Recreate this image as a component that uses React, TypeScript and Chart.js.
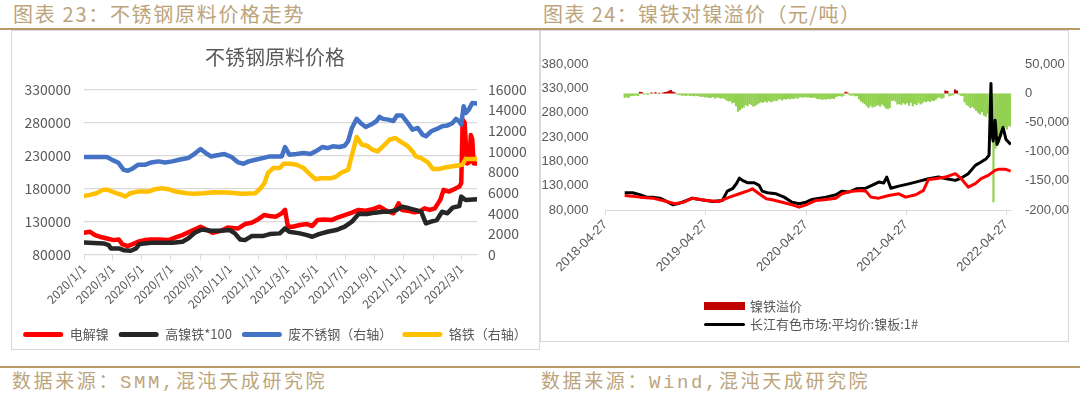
import React, { useEffect, useRef } from "react";
import { Chart, registerables } from "chart.js";

Chart.register(...registerables);

const FONT = '"Noto Sans CJK SC", "Noto Sans", sans-serif';
const NUM_FONT = '"Liberation Sans", "Noto Sans CJK SC", sans-serif';
const AXIS_GREY = "#595959";
const GRID = "#d9d9d9";
const GOLD_TEXT = "#bca47c";
const GOLD_LINE = "#b99a66";

// ---------------- Figure 23: stainless raw material prices ----------------
const chart23Title = "不锈钢原料价格";
const chart23TickLabels = [
  "2020/1/1", "2020/3/1", "2020/5/1", "2020/7/1", "2020/9/1", "2020/11/1",
  "2021/1/1", "2021/3/1", "2021/5/1", "2021/7/1", "2021/9/1", "2021/11/1",
  "2022/1/1", "2022/3/1",
];

// 电解镍 (left axis)
const nickelDates = [
  "2020-01-01", "2020-01-13", "2020-01-24", "2020-02-03", "2020-02-18", "2020-03-03", "2020-03-14", "2020-03-21",
  "2020-04-01", "2020-04-12", "2020-04-23", "2020-05-07", "2020-05-21", "2020-06-05", "2020-06-26", "2020-07-11",
  "2020-07-25", "2020-08-09", "2020-08-24", "2020-09-01", "2020-09-15", "2020-09-26", "2020-10-14", "2020-10-28",
  "2020-11-19", "2020-12-03", "2020-12-17", "2020-12-28", "2021-01-12", "2021-01-23", "2021-02-06", "2021-02-18",
  "2021-02-25", "2021-03-03", "2021-03-13", "2021-03-28", "2021-04-12", "2021-04-23", "2021-05-04", "2021-05-18",
  "2021-06-02", "2021-06-16", "2021-06-30", "2021-07-15", "2021-07-29", "2021-08-13", "2021-08-27", "2021-09-11",
  "2021-09-25", "2021-10-10", "2021-10-21", "2021-10-28", "2021-11-12", "2021-11-23", "2021-12-03", "2021-12-14",
  "2021-12-25", "2022-01-05", "2022-01-16", "2022-01-23", "2022-02-03", "2022-02-14", "2022-02-25", "2022-03-01",
  "2022-03-04", "2022-03-08", "2022-03-13", "2022-03-18", "2022-03-21", "2022-03-24", "2022-03-27", "2022-04-03",
];
const nickelValues = [
  113000, 114500, 109400, 106900, 104300, 101800, 102800, 95700,
  92700, 95700, 99300, 101800, 102800, 102800, 101800, 105900,
  109400, 114500, 119500, 122100, 117000, 113000, 116000, 121000,
  119500, 126100, 128200, 132200, 139800, 138300, 137300, 142400,
  147500, 122100, 122100, 124600, 126100, 123100, 132200, 133200,
  132200, 136300, 139800, 143400, 147500, 146400, 148500, 152500,
  146400, 142400, 157600, 147500, 145900, 143900, 145000, 150000,
  147500, 150000, 162700, 177900, 175300, 178900, 183000, 188000,
  284000, 280000, 218000, 220000, 261000, 255000, 218000, 218000,
];

// 高镍铁*100 (left axis)
const npiDates = [
  "2020-01-01", "2020-02-11", "2020-02-22", "2020-02-26", "2020-03-14", "2020-03-24", "2020-04-08", "2020-04-19",
  "2020-04-26", "2020-05-21", "2020-07-04", "2020-07-25", "2020-08-06", "2020-08-20", "2020-09-04", "2020-09-23",
  "2020-10-14", "2020-11-01", "2020-11-12", "2020-11-23", "2020-12-03", "2020-12-17", "2021-01-09", "2021-01-24",
  "2021-02-14", "2021-02-25", "2021-03-06", "2021-03-28", "2021-04-12", "2021-04-23", "2021-05-07", "2021-05-25",
  "2021-06-12", "2021-06-30", "2021-07-15", "2021-07-29", "2021-08-16", "2021-09-01", "2021-09-18", "2021-10-02",
  "2021-10-17", "2021-10-28", "2021-11-12", "2021-11-30", "2021-12-07", "2021-12-17", "2021-12-28", "2022-01-09",
  "2022-01-20", "2022-01-31", "2022-02-11", "2022-02-25", "2022-03-01", "2022-03-10", "2022-04-03",
];
const npiValues = [
  98300, 96700, 94200, 89100, 89100, 86600, 85600, 89100,
  95700, 97700, 97700, 99300, 104300, 113000, 118000, 116000,
  116000, 117000, 112000, 102800, 101800, 107900, 107900, 110900,
  112000, 119500, 114500, 112000, 109400, 106900, 110900, 114500,
  117000, 122100, 129700, 141400, 141400, 143400, 144900, 144900,
  147500, 152500, 150000, 146400, 144900, 127200, 129700, 132200,
  144900, 142400, 151000, 153500, 167700, 162700, 163700,
];

// 废不锈钢 (right axis)
const scrapDates = [
  "2020-01-01", "2020-02-18", "2020-03-01", "2020-03-13", "2020-03-24", "2020-04-02", "2020-04-12", "2020-04-23",
  "2020-05-07", "2020-05-21", "2020-06-05", "2020-06-19", "2020-07-04", "2020-07-18", "2020-08-06", "2020-08-17",
  "2020-09-01", "2020-09-12", "2020-09-23", "2020-10-03", "2020-10-21", "2020-11-05", "2020-11-19", "2020-11-30",
  "2020-12-11", "2020-12-25", "2021-01-09", "2021-01-24", "2021-02-18", "2021-02-25", "2021-03-06", "2021-03-21",
  "2021-04-05", "2021-04-19", "2021-04-30", "2021-05-14", "2021-05-25", "2021-06-05", "2021-06-19", "2021-06-30",
  "2021-07-07", "2021-07-15", "2021-07-25", "2021-08-02", "2021-08-13", "2021-08-24", "2021-09-04", "2021-09-11",
  "2021-09-18", "2021-09-29", "2021-10-10", "2021-10-17", "2021-10-28", "2021-11-08", "2021-11-19", "2021-11-30",
  "2021-12-10", "2021-12-17", "2021-12-28", "2022-01-09", "2022-01-20", "2022-01-31", "2022-02-11", "2022-02-18",
  "2022-02-25", "2022-03-01", "2022-03-06", "2022-03-11", "2022-03-17", "2022-03-24", "2022-04-03",
];
const scrapValues = [
  9450, 9450, 9150, 8900, 8210, 8120, 8350, 8700,
  8700, 8930, 9030, 8930, 9030, 9190, 9350, 9680,
  10230, 9840, 9510, 9600, 9740, 9450, 8930, 8800,
  9030, 9190, 9350, 9510, 9510, 10420, 9680, 9740,
  9840, 9740, 10000, 10420, 10320, 10490, 10420, 10550,
  10980, 12270, 13150, 12760, 12370, 12600, 12920, 13340,
  13150, 13080, 12950, 13470, 13470, 12820, 12110, 12270,
  11620, 11460, 11950, 12180, 12440, 12500, 12760, 13150,
  12900, 12600, 14380, 13730, 14060, 14700, 14640,
];

// 铬铁 (right axis)
const ferroDates = [
  "2020-01-01", "2020-01-13", "2020-01-27", "2020-02-10", "2020-02-20", "2020-03-05", "2020-03-20", "2020-03-27",
  "2020-04-07", "2020-04-23", "2020-05-15", "2020-05-29", "2020-06-12", "2020-06-26", "2020-07-11", "2020-08-02",
  "2020-08-17", "2020-09-08", "2020-09-29", "2020-10-28", "2020-11-26", "2020-12-25", "2021-01-05", "2021-01-13",
  "2021-01-20", "2021-01-31", "2021-02-14", "2021-02-22", "2021-03-08", "2021-03-21", "2021-04-05", "2021-04-19",
  "2021-04-30", "2021-05-11", "2021-06-02", "2021-06-12", "2021-06-23", "2021-07-07", "2021-07-18", "2021-07-25",
  "2021-08-05", "2021-08-16", "2021-08-27", "2021-09-07", "2021-09-18", "2021-10-02", "2021-10-14", "2021-10-24",
  "2021-11-08", "2021-11-19", "2021-11-26", "2021-12-07", "2021-12-21", "2022-01-01", "2022-01-12", "2022-01-26",
  "2022-02-18", "2022-03-03", "2022-03-10", "2022-04-03",
];
const ferroValues = [
  5680, 5780, 5940, 6270, 6270, 6010, 5780, 5620,
  5940, 6100, 6100, 6330, 6430, 6330, 6100, 5940,
  5880, 5940, 6040, 6010, 5880, 5940, 6430, 6920,
  7890, 8380, 8380, 8800, 8800, 8700, 8380, 7730,
  7300, 7400, 7400, 7560, 7950, 8210, 10160, 11400,
  10650, 10550, 10160, 10000, 10490, 11140, 11300, 10970,
  10550, 10000, 9510, 9350, 8930, 8280, 8280, 8440,
  8600, 8700, 9250, 9250,
];

// ---------------- Figure 24: NPI premium over nickel ----------------
const chart24TickLabels = ["2018-04-27", "2019-04-27", "2020-04-27", "2021-04-27", "2022-04-27"];
const chart24AxisEnd = "2022-05-14";

// 镍铁溢价 (right axis), weekly from premiumStart
const premiumStart = "2018-07-06";
const premiumStepDays = 7;
const premiumValues = [
  -7600, -6500, -8000, -5000, -4500, -4000, -3500, -4200, 3000, 2000,
  -2000, -1500, -2500, -1000, 1500, -1000, 2000, -800, 1200, -600,
  1800, 2500, 3000, 4500, 6000, 3500, 2000, -1500, -2500, -3000,
  -4000, -3500, -4500, -3000, -4200, -3800, -5000, -4000, -4500, -5200,
  -6000, -5500, -7000, -6500, -8000, -7500, -6000, -8500, -7000, -7500,
  -9000, -8000, -9500, -12000, -14000, -13000, -17000, -16000, -22000, -31600,
  -29000, -25800, -24000, -20000, -22000, -18000, -20000, -22800, -21000, -19000,
  -17000, -15000, -16000, -14000, -15500, -13000, -15000, -14000, -12500, -13500,
  -11000, -10000, -12000, -9500, -10500, -9000, -10000, -8500, -9500, -8000,
  -9000, -7000, -6500, -7500, -6000, -7000, -6500, -8000, -7000, -7500,
  -9000, -10000, -9500, -11000, -10000, -10500, -9000, -10000, -8500, -9500,
  -6000, -5000, -4500, -5500, -4000, 2800, 1500, -3000, -4000, -3500,
  -5000, -4500, -10000, -14000, -16000, -18000, -22000, -25000, -21000, -24000,
  -23000, -22000, -20000, -23000, -19000, -22000, -26000, -27000, -25000, -13000,
  -12000, -14000, -19000, -18000, -20000, -17000, -19000, -17000, -21000, -16000,
  -22000, -18000, -20000, -16000, -19000, -17000, -14000, -15000, -13000, -14500,
  -12000, -13000, -11000, -8000, -7000, -9000, -8000, 5000, 4000, -5000,
  -4000, -3000, 6900, 5000, -2000, -4000, -4500, -15000, -20000, -22000,
  -25000, -23000, -26000, -30000, -33000, -36000, -32000, -38000, -40000, -35000,
  -42000, -40000, -186600, -95000, -70000, -85000, -75000, -60000, -58000, -62000,
  -56000, -57000,
];

// 长江有色市场:平均价:镍板:1# (left axis)
const ni1Dates = [
  "2018-07-06", "2018-08-04", "2018-08-30", "2018-09-24", "2018-10-16", "2018-11-11", "2018-12-06", "2018-12-28",
  "2019-01-22", "2019-02-17", "2019-03-10", "2019-04-05", "2019-04-30", "2019-05-22", "2019-06-27", "2019-07-15",
  "2019-08-03", "2019-08-17", "2019-08-28", "2019-09-08", "2019-09-26", "2019-10-21", "2019-11-08", "2019-11-19",
  "2019-12-08", "2020-01-09", "2020-02-07", "2020-03-07", "2020-04-02", "2020-04-27", "2020-05-19", "2020-07-09",
  "2020-08-14", "2020-09-05", "2020-09-30", "2020-10-29", "2020-12-01", "2020-12-23", "2021-01-17", "2021-02-04",
  "2021-02-15", "2021-03-02", "2021-03-31", "2021-05-06", "2021-06-11", "2021-07-17", "2021-08-23", "2021-09-21",
  "2021-10-23", "2021-11-14", "2021-12-09", "2022-01-04", "2022-01-25", "2022-02-13", "2022-02-23", "2022-03-02",
  "2022-03-06", "2022-03-10", "2022-03-17", "2022-03-24", "2022-03-31", "2022-04-15", "2022-04-26", "2022-05-13",
];
const ni1Values = [
  115500, 115500, 111400, 106500, 106500, 104400, 97600, 90700,
  94000, 99600, 104400, 101700, 99600, 97600, 99600, 118800,
  123800, 134100, 145700, 141000, 136200, 136200, 130600, 118800,
  115500, 113400, 106500, 96100, 92800, 96100, 101700, 106500,
  111400, 118800, 117000, 123800, 124900, 130600, 137500, 135700,
  147800, 124900, 129100, 133800, 138900, 144400, 147800, 144400,
  141000, 145800, 154800, 171900, 178900, 185700, 192600, 340700,
  235000, 222000, 264900, 215000, 225000, 250000, 225000, 215000,
];

// 镍铁折算镍价 (left axis, red line)
const npiNickelDates = [
  "2018-07-06", "2018-08-30", "2018-10-16", "2018-12-06", "2019-01-04", "2019-02-05", "2019-03-10", "2019-04-30",
  "2019-06-16", "2019-07-23", "2019-08-28", "2019-10-03", "2019-10-14", "2019-11-08", "2019-12-04", "2019-12-25",
  "2020-01-31", "2020-03-07", "2020-04-02", "2020-04-27", "2020-06-02", "2020-07-09", "2020-08-14", "2020-09-05",
  "2020-10-11", "2020-11-13", "2020-12-01", "2020-12-19", "2021-01-17", "2021-02-22", "2021-03-31", "2021-04-25",
  "2021-06-01", "2021-06-29", "2021-07-17", "2021-08-12", "2021-09-17", "2021-10-23", "2021-11-14", "2021-12-09",
  "2022-01-04", "2022-01-25", "2022-02-20", "2022-03-17", "2022-03-28", "2022-04-23", "2022-05-13",
];
const npiNickelValues = [
  110000, 106500, 104400, 97600, 92800, 96100, 104400, 99600,
  97600, 106500, 113400, 120300, 123800, 113400, 103100, 101000,
  96100, 90700, 85800, 90700, 99600, 101700, 104400, 113400,
  118800, 120300, 118800, 106500, 104400, 110000, 113400, 106500,
  111400, 120300, 143000, 144400, 147800, 154800, 144400, 127000,
  134100, 144400, 151300, 161600, 163700, 164000, 160000,
];

// ---------------- helpers ----------------
function dayOf(s: string, base: string): number {
  const p = s.split(/[-/]/).map(Number);
  const b = base.split(/[-/]/).map(Number);
  return (Date.UTC(p[0], p[1] - 1, p[2]) - Date.UTC(b[0], b[1] - 1, b[2])) / 86400000;
}
function toPoints(dates: string[], values: number[], base: string) {
  return dates.map((d, i) => ({ x: dayOf(d, base), y: values[i] }));
}

function Chart23() {
  const ref = useRef<HTMLCanvasElement>(null);
  useEffect(() => {
    const base = chart23TickLabels[0];
    const tickDays = chart23TickLabels.map((l) => dayOf(l, base));
    const endDay = dayOf(nickelDates[nickelDates.length - 1], base);
    const lineDs = (label: string, d: string[], v: number[], color: string, axis: string, order: number) => ({
      type: "line" as const,
      label,
      data: toPoints(d, v, base),
      borderColor: color,
      backgroundColor: color,
      borderWidth: 4.5,
      pointRadius: 0,
      borderCapStyle: "round" as const,
      borderJoinStyle: "round" as const,
      yAxisID: axis,
      order,
    });
    const chart = new Chart(ref.current!, {
      type: "line",
      data: {
        datasets: [
          lineDs("电解镍", nickelDates, nickelValues, "#ff0000", "y", 4),
          lineDs("高镍铁*100", npiDates, npiValues, "#262626", "y", 3),
          lineDs("废不锈钢（右轴）", scrapDates, scrapValues, "#4472c4", "y1", 2),
          lineDs("铬铁（右轴）", ferroDates, ferroValues, "#ffc000", "y1", 1),
        ],
      },
      options: {
        animation: false,
        responsive: false,
        maintainAspectRatio: false,
        layout: { padding: 0 },
        plugins: {
          tooltip: { enabled: false },
          title: {
            display: true,
            text: chart23Title,
            color: AXIS_GREY,
            font: { family: FONT, size: 20, weight: "normal" },
            padding: { top: 15, bottom: 20.5 },
          },
          legend: {
            position: "bottom",
            labels: {
              boxWidth: 40,
              boxHeight: 5,
              padding: 10,
              color: AXIS_GREY,
              font: { family: FONT, size: 13 },
              sort: (a: any, b: any) => a.datasetIndex - b.datasetIndex,
              generateLabels: (c: any) =>
                Chart.defaults.plugins.legend.labels
                  .generateLabels(c)
                  .map((l: any) => ({ ...l, lineWidth: 0, borderRadius: 2.5 })),
            },
          },
        },
        scales: {
          x: {
            type: "linear",
            min: 0,
            max: endDay,
            offset: false,
            afterBuildTicks: (s: any) => {
              s.ticks = tickDays.map((v) => ({ value: v }));
            },
            afterFit: (s: any) => {
              s.height = 63.5;
            },
            ticks: {
              autoSkip: false,
              minRotation: 45,
              maxRotation: 45,
              padding: 2,
              color: AXIS_GREY,
              font: { family: FONT, size: 12 },
              callback: (_v: any, i: number) => chart23TickLabels[i],
            },
            grid: { drawOnChartArea: false, drawTicks: true, tickLength: 5, color: GRID },
            border: { display: true, color: GRID },
          },
          y: {
            position: "left",
            min: 80000,
            max: 330000,
            afterFit: (s: any) => {
              s.width = 73;
            },
            ticks: {
              stepSize: 50000,
              padding: 13,
              color: AXIS_GREY,
              font: { family: FONT, size: 14 },
              callback: (v: any) => String(v),
            },
            grid: { color: GRID, drawTicks: false, lineWidth: 1.3 },
            border: { display: false },
          },
          y1: {
            position: "right",
            min: 0,
            max: 16000,
            afterFit: (s: any) => {
              s.width = 62;
            },
            ticks: {
              stepSize: 2000,
              padding: 11,
              color: AXIS_GREY,
              font: { family: FONT, size: 14 },
              callback: (v: any) => String(v),
            },
            grid: { drawOnChartArea: false, drawTicks: false },
            border: { display: false },
          },
        },
      } as any,
    });
    return () => chart.destroy();
  }, []);
  return (
    <canvas
      ref={ref}
      width={528}
      height={321}
      style={{ position: "absolute", left: 11, top: 30, width: 528, height: 321 }}
    />
  );
}

function Chart24() {
  const ref = useRef<HTMLCanvasElement>(null);
  useEffect(() => {
    const base = chart24TickLabels[0];
    const tickDays = chart24TickLabels.map((l) => dayOf(l, base));
    const endDay = dayOf(chart24AxisEnd, base);
    const start = dayOf(premiumStart, base);
    const chart = new Chart(ref.current!, {
      type: "line",
      data: {
        datasets: [
          {
            type: "bar",
            label: "镍铁溢价",
            data: premiumValues.map((v, i) => ({ x: start + i * premiumStepDays, y: v })),
            backgroundColor: premiumValues.map((v) => (v >= 0 ? "#c00000" : "#92d050")),
            borderWidth: 0,
            barPercentage: 1.15,
            categoryPercentage: 1,
            yAxisID: "y2",
            order: 3,
          },
          {
            type: "line",
            label: "长江有色市场:平均价:镍板:1#",
            data: toPoints(ni1Dates, ni1Values, base),
            borderColor: "#000000",
            backgroundColor: "#000000",
            borderWidth: 3,
            pointRadius: 0,
            borderJoinStyle: "round",
            yAxisID: "y",
            order: 2,
          },
          {
            type: "line",
            label: "镍铁折算镍价",
            data: toPoints(npiNickelDates, npiNickelValues, base),
            borderColor: "#ff0000",
            backgroundColor: "#ff0000",
            borderWidth: 3,
            pointRadius: 0,
            borderJoinStyle: "round",
            yAxisID: "y",
            order: 1,
          },
        ],
      },
      options: {
        animation: false,
        responsive: false,
        maintainAspectRatio: false,
        layout: { padding: { top: 34.3, left: 0, right: 0, bottom: 0 } },
        plugins: { legend: { display: false }, tooltip: { enabled: false }, title: { display: false } },
        scales: {
          x: {
            type: "linear",
            min: 0,
            max: endDay,
            offset: false,
            afterBuildTicks: (s: any) => {
              s.ticks = tickDays.map((v) => ({ value: v }));
            },
            afterFit: (s: any) => {
              s.height = 132;
            },
            ticks: {
              autoSkip: false,
              minRotation: 45,
              maxRotation: 45,
              padding: 2,
              color: AXIS_GREY,
              font: { family: NUM_FONT, size: 13 },
              callback: (_v: any, i: number) => chart24TickLabels[i],
            },
            grid: { drawOnChartArea: false, drawTicks: true, tickLength: 5, color: GRID, offset: false },
            border: { display: true, color: GRID },
          },
          y: {
            position: "left",
            min: 80000,
            max: 380000,
            afterFit: (s: any) => {
              s.width = 65.5;
            },
            ticks: {
              stepSize: 50000,
              padding: 17,
              color: AXIS_GREY,
              font: { family: NUM_FONT, size: 13 },
              callback: (v: any) => Number(v).toLocaleString("en-US"),
            },
            grid: { display: false, drawTicks: false },
            border: { display: false },
          },
          y2: {
            position: "right",
            min: -200000,
            max: 50000,
            afterFit: (s: any) => {
              s.width = 58;
            },
            ticks: {
              stepSize: 50000,
              padding: 14,
              color: AXIS_GREY,
              font: { family: NUM_FONT, size: 13 },
              callback: (v: any) => Number(v).toLocaleString("en-US"),
            },
            grid: { display: false, drawTicks: false },
            border: { display: false },
          },
        },
      } as any,
    });
    return () => chart.destroy();
  }, []);
  return (
    <canvas
      ref={ref}
      width={529}
      height={312}
      style={{ position: "absolute", left: 540, top: 30, width: 529, height: 312 }}
    />
  );
}

const headerStyle: React.CSSProperties = {
  position: "absolute",
  top: 2,
  fontSize: 20,
  lineHeight: "24px",
  color: GOLD_TEXT,
  whiteSpace: "nowrap",
  fontFamily: FONT,
};
const footerStyle: React.CSSProperties = {
  position: "absolute",
  top: 371,
  fontSize: 19,
  lineHeight: "24px",
  color: GOLD_TEXT,
  whiteSpace: "nowrap",
  fontFamily: '"Liberation Mono", "Noto Sans CJK SC", monospace',
  letterSpacing: "2.6px",
};
const legendText: React.CSSProperties = {
  position: "absolute",
  left: 750,
  fontSize: 13,
  lineHeight: "16px",
  color: AXIS_GREY,
  fontFamily: FONT,
  whiteSpace: "nowrap",
};

export default function App() {
  return (
    <div
      style={{
        position: "fixed",
        left: 0,
        top: 0,
        width: 1080,
        height: 399,
        background: "#ffffff",
        overflow: "hidden",
      }}
    >
      <div style={{ ...headerStyle, left: 13, letterSpacing: "1.7px" }}>图表 23：不锈钢原料价格走势</div>
      <div style={{ ...headerStyle, left: 543, letterSpacing: "1.4px" }}>图表 24：镍铁对镍溢价（元/吨）</div>
      <div style={{ position: "absolute", left: 0, top: 28, width: 1080, height: 2, background: GOLD_LINE }} />

      <div
        style={{
          position: "absolute",
          left: 11,
          top: 30,
          width: 529,
          height: 320,
          border: `1px solid ${GRID}`,
          boxSizing: "border-box",
        }}
      />
      <div
        style={{
          position: "absolute",
          left: 540,
          top: 30,
          width: 529,
          height: 312,
          border: `1px solid ${GRID}`,
          boxSizing: "border-box",
        }}
      />
      <Chart23 />
      <Chart24 />

      <div style={{ position: "absolute", left: 704, top: 302, width: 41, height: 8, background: "#c00000" }} />
      <div style={{ ...legendText, top: 298 }}>镍铁溢价</div>
      <div
        style={{ position: "absolute", left: 704, top: 322.5, width: 41, height: 3, borderRadius: 1.5, background: "#000" }}
      />
      <div style={{ ...legendText, top: 316 }}>长江有色市场:平均价:镍板:1#</div>

      <div style={{ position: "absolute", left: 0, top: 366, width: 1080, height: 2, background: GOLD_LINE }} />
      <div style={{ ...footerStyle, left: 12 }}>数据来源：SMM,混沌天成研究院</div>
      <div style={{ ...footerStyle, left: 541 }}>数据来源：Wind,混沌天成研究院</div>
    </div>
  );
}
